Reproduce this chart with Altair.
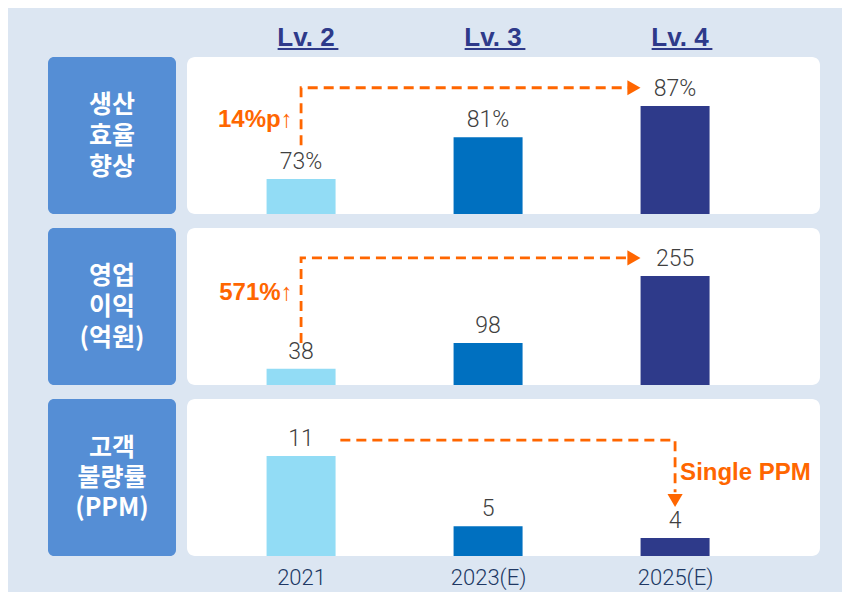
import altair as alt
import pandas as pd

# ---------------- data ----------------
years = ["2021", "2023(E)", "2025(E)"]
levels = ["Lv. 2", "Lv. 3", "Lv. 4"]
pos = [0, 1, 2]
bar_colors = ["#92dcf5", "#0070c0", "#2e3a8a"]

eff_vals = [73, 81, 87]
eff_labels = ["73%", "81%", "87%"]
profit_vals = [38, 98, 255]
profit_labels = ["38", "98", "255"]
ppm_vals = [11, 5, 4]
ppm_labels = ["11", "5", "4"]

row_titles = [["생산", "효율", "향상"], ["영업", "이익", "(억원)"], ["고객", "불량률", "(PPM)"]]

# annotation paths (x in category units, y in data units)
eff_path_x = [0, 0, 1.75]
eff_path_y = [79.5, 90.5, 90.5]
eff_head = (1.78, 90.5, "triangle-right")
eff_note = (-0.045, 84.3, "14%p↑", "right")

profit_path_x = [0, 0, 1.75]
profit_path_y = [98, 297, 297]
profit_head = (1.78, 297, "triangle-right")
profit_note = (-0.045, 215, "571%↑", "right")

ppm_path_x = [0.21, 2.0, 2.0]
ppm_path_y = [12.37, 12.37, 7.9]
ppm_head = (2.0, 7.2, "triangle-down")
ppm_note = (2.027, 9.55, "Single PPM", "left")

# ---------------- style ----------------
BG = "#dce6f2"
BOX = "#558ed5"
ORANGE = "#ff6600"
PANEL_W, PANEL_H = 633, 157
BOX_W = 128
XDOM = [-0.61, 2.775]


def panel(vals, labels, ydom, px, py, head, note, bottom_axis):
    df = pd.DataFrame({"pos": pos, "v": vals, "lab": labels, "c": bar_colors})
    if bottom_axis:
        label_expr = "[" + ",".join("'" + y + "'" for y in years) + "][datum.value]"
        axis = alt.Axis(values=pos, labelExpr=label_expr, domain=False, ticks=False,
                        grid=False, labelFontSize=22, labelColor="#203864",
                        labelFont="Roboto", labelFontWeight=300, labelPadding=11,
                        title=None, labelAngle=0)
    else:
        axis = None
    xs = alt.Scale(domain=XDOM, nice=False, zero=False, padding=0)
    ys = alt.Scale(domain=ydom, nice=False, zero=False, padding=0)
    x = alt.X("pos:Q", scale=xs, axis=axis)
    y = alt.Y("v:Q", scale=ys, axis=None)

    bars = alt.Chart(df).mark_bar(size=69).encode(
        x=x, y=y, y2=alt.datum(ydom[0]), color=alt.Color("c:N", scale=None)
    )
    texts = alt.Chart(df).mark_text(
        dy=-5, baseline="bottom", fontSize=23, font="Roboto", fontWeight=300, color="#404040"
    ).encode(x=alt.X("pos:Q", scale=xs), y=alt.Y("v:Q", scale=ys), text="lab:N")

    pdf = pd.DataFrame({"x": px, "y": py, "o": [0, 1, 2]})
    path = alt.Chart(pdf).mark_line(strokeDash=[10, 6], strokeWidth=2.8, color=ORANGE).encode(
        x=alt.X("x:Q", scale=xs), y=alt.Y("y:Q", scale=ys), order="o:Q"
    )
    hdf = pd.DataFrame({"x": [head[0]], "y": [head[1]]})
    arrow = alt.Chart(hdf).mark_point(shape=head[2], filled=True, size=230, opacity=1,
                                      color=ORANGE).encode(
        x=alt.X("x:Q", scale=xs), y=alt.Y("y:Q", scale=ys)
    )
    ndf = pd.DataFrame({"x": [note[0]], "y": [note[1]], "t": [note[2]]})
    ntext = alt.Chart(ndf).mark_text(
        align=note[3], baseline="middle", fontSize=24, fontWeight="bold",
        font="Liberation Sans", color=ORANGE
    ).encode(x=alt.X("x:Q", scale=xs), y=alt.Y("y:Q", scale=ys), text="t:N")

    return alt.layer(bars, texts, path, arrow, ntext).properties(
        width=PANEL_W, height=PANEL_H,
        view=alt.ViewBackground(fill="white", cornerRadius=8, strokeWidth=0)
    )


def box(lines, line_h):
    # one row per line; line index mapped through a linear scale
    half = PANEL_H / line_h / 2
    df = pd.DataFrame({"t": lines, "i": [0, 1, 2]})
    return alt.Chart(df).mark_text(
        fontSize=25, fontWeight="bold", font="Noto Sans CJK KR", color="white",
        baseline="middle", align="center"
    ).encode(
        y=alt.Y("i:Q", scale=alt.Scale(domain=[1 + half, 1 - half], nice=False,
                                       zero=False, padding=0), axis=None),
        text="t:N"
    ).properties(
        width=BOX_W, height=PANEL_H,
        view=alt.ViewBackground(fill=BOX, cornerRadius=6, strokeWidth=0)
    )


# header row with level titles
HEAD_W = BOX_W + 11 + PANEL_W
hx = alt.Scale(domain=[-253 / 187, (HEAD_W - 253) / 187], nice=False, zero=False, padding=0)
hdf = pd.DataFrame({"pos": pos, "lv": levels})
head_text = alt.Chart(hdf).mark_text(
    fontSize=26, fontWeight="bold", font="Liberation Sans", color="#2e3a8a",
    baseline="middle", dx=5
).encode(x=alt.X("pos:Q", scale=hx, axis=None), y=alt.value(25), text="lv:N")
head_rule = alt.Chart(hdf).transform_calculate(
    a="datum.pos - 0.125", b="datum.pos + 0.2"
).mark_rule(color="#2e3a8a", strokeWidth=2).encode(
    x=alt.X("a:Q", scale=hx, axis=None), x2="b:Q", y=alt.value(36)
)
header = alt.layer(head_text, head_rule).properties(width=HEAD_W, height=38)

row1 = alt.hconcat(box(row_titles[0], 31),
                   panel(eff_vals, eff_labels, [66.3, 96.4], eff_path_x, eff_path_y,
                         eff_head, eff_note, False), spacing=11)
row2 = alt.hconcat(box(row_titles[1], 31),
                   panel(profit_vals, profit_labels, [0, 367], profit_path_x, profit_path_y,
                         profit_head, profit_note, False), spacing=11)
row3 = alt.hconcat(box(row_titles[2], 30),
                   panel(ppm_vals, ppm_labels, [2.46, 15.88], ppm_path_x, ppm_path_y,
                         ppm_head, ppm_note, True), spacing=11)

rows = alt.vconcat(row1, row2, row3, spacing=14)

chart = alt.vconcat(header, rows, spacing=6).properties(
    padding={"left": 40, "top": 5, "right": 22, "bottom": 4},
    background=BG
).configure_view(strokeWidth=0).configure_concat(spacing=11)

chart.save("out.html", embed_options={"renderer": "svg", "actions": False})
